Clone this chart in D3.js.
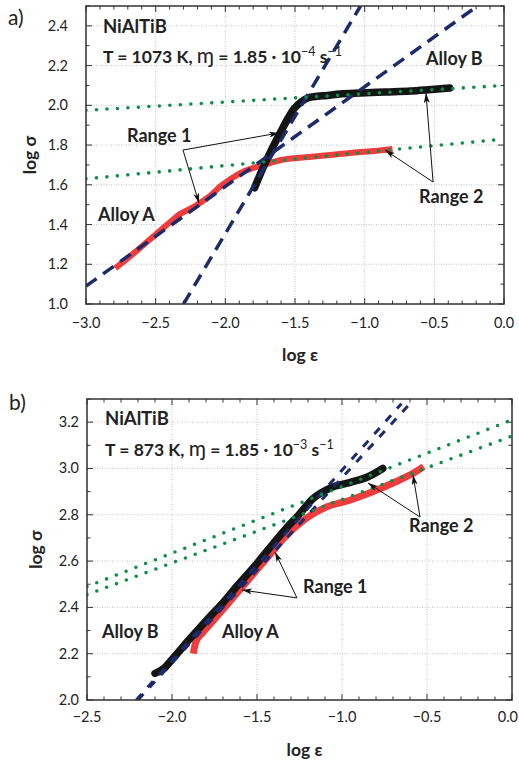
<!DOCTYPE html>
<html>
<head>
<meta charset="utf-8">
<script src="https://cdn.jsdelivr.net/npm/d3@7"></script>
<style>
  body { margin: 0; background: #fff; }
  svg { font-family: Lato, "Open Sans", sans-serif; }
</style>
</head>
<body>
<svg id="chart" width="519" height="765"></svg>
<script>
// ---- panel a) T = 1073 K ----
const xTicksA = [-3.0, -2.5, -2.0, -1.5, -1.0, -0.5, 0.0];
const yTicksA = [1.0, 1.2, 1.4, 1.6, 1.8, 2.0, 2.2, 2.4];

// log eps, log sigma
const alloyA_1073 = [[-2.79,1.18],[-2.65,1.26],[-2.50,1.35],[-2.40,1.41],[-2.32,1.455],[-2.25,1.48],
  [-2.18,1.51],[-2.10,1.55],[-2.04,1.59],[-1.96,1.63],[-1.89,1.66],[-1.82,1.68],[-1.75,1.695],
  [-1.60,1.725],[-1.40,1.74],[-1.18,1.755],[-1.03,1.765],[-0.90,1.772],[-0.80,1.78]];
const alloyB_1073 = [[-1.79,1.585],[-1.73,1.685],[-1.67,1.775],[-1.60,1.87],[-1.55,1.935],[-1.51,1.98],
  [-1.46,2.015],[-1.41,2.037],[-1.34,2.046],[-1.27,2.05],[-1.18,2.057],[-1.03,2.062],[-0.85,2.067],
  [-0.67,2.072],[-0.52,2.08],[-0.39,2.087]];
// fitted lines (end points)
const range1A_1073 = [[-3.0,1.09],[-0.19,2.5]];
const range1B_1073 = [[-2.30,1.0],[-1.03,2.5]];
const range2A_1073 = [[-3.0,1.63],[0.0,1.83]];
const range2B_1073 = [[-3.0,1.975],[0.0,2.10]];

// ---- panel b) T = 873 K ----
const xTicksB = [-2.5, -2.0, -1.5, -1.0, -0.5, 0.0];
const yTicksB = [2.0, 2.2, 2.4, 2.6, 2.8, 3.0, 3.2];

const alloyA_873 = [[-1.875,2.20],[-1.86,2.25],[-1.82,2.29],[-1.76,2.34],[-1.69,2.40],[-1.62,2.46],
  [-1.55,2.52],[-1.48,2.58],[-1.41,2.64],[-1.34,2.70],[-1.27,2.75],[-1.20,2.79],[-1.09,2.834],
  [-0.95,2.864],[-0.82,2.899],[-0.70,2.937],[-0.58,2.98],[-0.52,3.008]];
const alloyB_873 = [[-2.10,2.115],[-2.05,2.135],[-2.00,2.175],[-1.90,2.26],[-1.79,2.35],[-1.70,2.42],
  [-1.62,2.49],[-1.50,2.59],[-1.40,2.68],[-1.33,2.74],[-1.26,2.795],[-1.17,2.87],[-1.07,2.915],
  [-0.95,2.94],[-0.85,2.963],[-0.76,3.0]];
const range1A_873 = [[-2.20,2.0],[-0.60,3.28]];
const range1B_873 = [[-2.21,2.0],[-0.65,3.28]];
const range2A_873 = [[-2.5,2.455],[0.0,3.14]];
const range2B_873 = [[-2.5,2.49],[0.0,3.21]];

const svg = d3.select("#chart");
const fmt = d3.format(".1f");
const W = 519;

// arrow head
svg.append("defs").append("marker")
  .attr("id", "arrow")
  .attr("viewBox", "0 0 10 6")
  .attr("refX", 10).attr("refY", 3)
  .attr("markerWidth", 10).attr("markerHeight", 6)
  .attr("markerUnits", "userSpaceOnUse")
  .attr("orient", "auto")
  .append("path")
  .attr("d", "M0,0 L10,3 L0,6 L2.5,3 z")
  .attr("fill", "#111");

function drawPanel(p) {
  const g = svg.append("g");
  const x = d3.scaleLinear().domain(p.xDomain).range([p.left, p.right]);
  const y = d3.scaleLinear().domain(p.yDomain).range([p.bottom, p.top]);

  // dotted grid
  const grid = g.append("g").attr("stroke", "#b8b8b8").attr("stroke-width", 0.8)
    .attr("stroke-dasharray", "1,1.5");
  grid.selectAll(".gx").data(p.xTicks).join("line")
    .attr("x1", d => x(d)).attr("x2", d => x(d)).attr("y1", p.top).attr("y2", p.bottom);
  grid.selectAll(".gy").data(p.yTicks).join("line")
    .attr("y1", d => y(d)).attr("y2", d => y(d)).attr("x1", p.left).attr("x2", p.right);

  // ticks on all four sides, pointing inward
  const xMinor = d3.range(Math.round(p.xDomain[0] * 10), Math.round(p.xDomain[1] * 10) + 1).map(i => i / 10);
  const yMinor = d3.range(Math.round(p.yDomain[0] * 10), Math.round(p.yDomain[1] * 10) + 1).map(i => i / 10);
  const isMajor = (v, list) => list.some(t => Math.abs(t - v) < 1e-6);
  const ticks = g.append("g").attr("stroke", "#333").attr("stroke-width", 1);
  xMinor.forEach(v => {
    const len = isMajor(v, p.xTicks) ? 6 : 3.5;
    ticks.append("line").attr("x1", x(v)).attr("x2", x(v)).attr("y1", p.bottom).attr("y2", p.bottom - len);
    ticks.append("line").attr("x1", x(v)).attr("x2", x(v)).attr("y1", p.top).attr("y2", p.top + len);
  });
  yMinor.forEach(v => {
    const len = isMajor(v, p.yTicks) ? 6 : 3.5;
    ticks.append("line").attr("y1", y(v)).attr("y2", y(v)).attr("x1", p.left).attr("x2", p.left + len);
    ticks.append("line").attr("y1", y(v)).attr("y2", y(v)).attr("x1", p.right).attr("x2", p.right - len);
  });

  // tick labels (last one kept inside the page)
  g.append("g").selectAll("text").data(p.xTicks).join("text")
    .attr("x", d => x(d) + 12 > W ? W - 1 : x(d))
    .attr("y", p.bottom + p.xLabelPad)
    .attr("text-anchor", d => x(d) + 12 > W ? "end" : "middle")
    .attr("font-size", 14.5).attr("fill", "#222")
    .text(d => fmt(d));
  g.append("g").selectAll("text").data(p.yTicks).join("text")
    .attr("x", p.left - p.yLabelPad).attr("y", d => y(d) + 5)
    .attr("text-anchor", "end").attr("font-size", 14.5).attr("fill", "#222")
    .text(d => fmt(d));

  // axis titles
  g.append("text").attr("x", (p.left + p.right) / 2 + 5).attr("y", p.bottom + p.xTitlePad)
    .attr("text-anchor", "middle").attr("font-size", 17.5).attr("font-weight", 700).attr("fill", "#222")
    .text("log ε");
  g.append("text")
    .attr("transform", `translate(${p.yTitleX},${(p.top + p.bottom) / 2}) rotate(-90)`)
    .attr("text-anchor", "middle").attr("font-size", 17.5).attr("font-weight", 700).attr("fill", "#222")
    .text("log σ");

  // panel letter
  g.append("text").attr("x", p.letterX).attr("y", p.letterY)
    .attr("font-size", 21).attr("fill", "#222").text(p.letter);

  // curves, clipped to the frame
  const clipId = "clip" + p.letter[0];
  svg.select("defs").append("clipPath").attr("id", clipId)
    .append("rect").attr("x", p.left).attr("y", p.top)
    .attr("width", p.right - p.left).attr("height", p.bottom - p.top);
  const plot = g.append("g").attr("clip-path", `url(#${clipId})`);
  const curve = d3.line().x(d => x(d[0])).y(d => y(d[1])).curve(d3.curveMonotoneX);
  const straight = d3.line().x(d => x(d[0])).y(d => y(d[1]));

  plot.append("path").attr("d", curve(p.alloyA)).attr("fill", "none")
    .attr("stroke", "#f03c3c").attr("stroke-width", p.redWidth)
    .attr("stroke-linecap", "butt").attr("stroke-linejoin", "round");
  plot.append("path").attr("d", curve(p.alloyB)).attr("fill", "none")
    .attr("stroke", "#151515").attr("stroke-width", 7.5)
    .attr("stroke-linecap", "round").attr("stroke-linejoin", "round");
  p.dashed.forEach(l => {
    plot.append("path").attr("d", straight(l)).attr("fill", "none")
      .attr("stroke", "#1d2b6b").attr("stroke-width", p.dashWidth)
      .attr("stroke-dasharray", p.dashArray);
  });
  p.dotted.forEach(l => {
    plot.append("path").attr("d", straight(l)).attr("fill", "none")
      .attr("stroke", "#0b8f48").attr("stroke-width", 3.6)
      .attr("stroke-linecap", "round").attr("stroke-dasharray", "0,10.5");
  });

  // arrows
  p.arrows.forEach(a => {
    g.append("line")
      .attr("x1", x(a.from[0])).attr("y1", y(a.from[1]))
      .attr("x2", x(a.to[0])).attr("y2", y(a.to[1]))
      .attr("stroke", "#111").attr("stroke-width", 1)
      .attr("marker-end", "url(#arrow)");
  });

  // labels
  p.labels.forEach(l => {
    g.append("text").attr("x", x(l.x)).attr("y", y(l.y))
      .attr("font-size", 18).attr("font-weight", 700).attr("fill", "#222").text(l.text);
  });

  // header: alloy and test conditions
  g.append("text").attr("x", x(p.head[0])).attr("y", y(p.head[1]))
    .attr("font-size", 18.5).attr("font-weight", 700).attr("fill", "#222").text("NiAlTiB");
  const t = g.append("text").attr("x", x(p.cond[0])).attr("y", y(p.cond[1]))
    .attr("font-size", 17.5).attr("font-weight", 700).attr("fill", "#222");
  t.append("tspan").text(`T = ${p.temp} K, `);
  t.append("tspan").attr("font-weight", 400).attr("font-size", 21).text("ɱ");
  t.append("tspan").text(" = 1.85 · 10");
  t.append("tspan").attr("dy", -7).attr("font-size", 12.5).attr("font-weight", 400).text(p.exp);
  t.append("tspan").attr("dy", 7).text(" s");
  t.append("tspan").attr("dy", -7).attr("font-size", 12.5).attr("font-weight", 400).text("−1");

  // frame
  g.append("rect").attr("x", p.left).attr("y", p.top)
    .attr("width", p.right - p.left).attr("height", p.bottom - p.top)
    .attr("fill", "none").attr("stroke", "#333").attr("stroke-width", 1.5);
}

drawPanel({
  letter: "a)", letterX: 8, letterY: 25,
  left: 86, right: 504, top: 6, bottom: 304,
  xDomain: [-3, 0], yDomain: [1.0, 2.5],
  xTicks: xTicksA, yTicks: yTicksA,
  xLabelPad: 24, yLabelPad: 18, xTitlePad: 57, yTitleX: 36,
  alloyA: alloyA_1073, alloyB: alloyB_1073, redWidth: 6,
  dashed: [range1A_1073, range1B_1073], dashWidth: 3.5, dashArray: "13,8",
  dotted: [range2A_1073, range2B_1073],
  temp: 1073, exp: "−4",
  head: [-2.878, 2.364], cond: [-2.878, 2.213],
  labels: [
    { text: "Range 1", x: -2.706, y: 1.815 },
    { text: "Alloy B", x: -0.56, y: 2.203 },
    { text: "Range 2", x: -0.61, y: 1.508 },
    { text: "Alloy A", x: -2.914, y: 1.418 }
  ],
  arrows: [
    { from: [-2.304, 1.775], to: [-2.189, 1.508] },
    { from: [-2.304, 1.775], to: [-1.615, 1.861] },
    { from: [-0.509, 1.614], to: [-0.56, 2.062] },
    { from: [-0.509, 1.614], to: [-0.854, 1.775] }
  ]
});

drawPanel({
  letter: "b)", letterX: 9, letterY: 410,
  left: 87, right: 512, top: 399, bottom: 700,
  xDomain: [-2.5, 0], yDomain: [2.0, 3.3],
  xTicks: xTicksB, yTicks: yTicksB,
  xLabelPad: 22, yLabelPad: 8, xTitlePad: 56, yTitleX: 42,
  alloyA: alloyA_873, alloyB: alloyB_873, redWidth: 7,
  dashed: [range1A_873, range1B_873], dashWidth: 3, dashArray: "8,9",
  dotted: [range2A_873, range2B_873],
  temp: 873, exp: "−3",
  head: [-2.394, 3.188], cond: [-2.394, 3.054],
  labels: [
    { text: "Alloy B", x: -2.412, y: 2.268 },
    { text: "Alloy A", x: -1.706, y: 2.268 },
    { text: "Range 1", x: -1.229, y: 2.462 },
    { text: "Range 2", x: -0.606, y: 2.726 }
  ],
  arrows: [
    { from: [-1.265, 2.441], to: [-1.588, 2.475] },
    { from: [-1.265, 2.441], to: [-1.394, 2.639] },
    { from: [-0.541, 2.79], to: [-0.847, 2.937] },
    { from: [-0.541, 2.79], to: [-0.582, 2.972] }
  ]
});
</script>
</body>
</html>
